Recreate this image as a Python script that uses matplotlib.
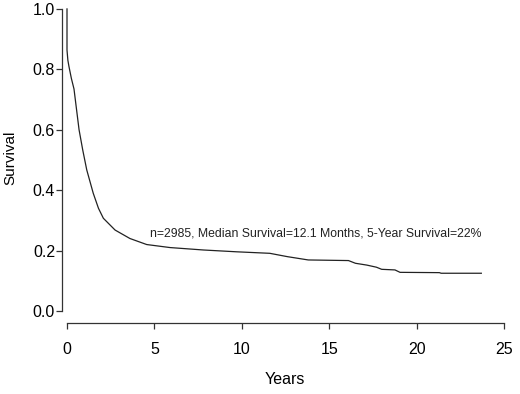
import matplotlib
matplotlib.use("Agg")
import matplotlib.pyplot as plt

plt.rcParams['font.family'] = ['Liberation Sans', 'DejaVu Sans']

years = [0, 0, 0.05, 0.11, 0.25, 0.40, 0.55, 0.69, 0.90, 1.13, 1.5, 1.8, 2.08, 2.75, 3.6, 4.56,
         5.9, 7.8, 9.7, 11.6, 12.6, 13.8, 16.1, 16.5, 17.15, 17.7, 18.0, 18.76, 19.05,
         21.3, 21.4, 23.7]
survival = [1.0, 0.864, 0.83, 0.81, 0.77, 0.735, 0.665, 0.60, 0.533, 0.467, 0.39, 0.34, 0.307, 0.268,
            0.24, 0.22, 0.21, 0.202, 0.196, 0.191, 0.18, 0.169, 0.167, 0.158, 0.152,
            0.145, 0.138, 0.136, 0.128, 0.127, 0.125, 0.125]
xticks = [0, 5, 10, 15, 20, 25]
yticks = [0.0, 0.2, 0.4, 0.6, 0.8, 1.0]
annotation = "n=2985, Median Survival=12.1 Months, 5-Year Survival=22%"

W, H = 520, 394
fig = plt.figure(figsize=(W / 100, H / 100), dpi=100)
ax = fig.add_axes([62 / W, 1 - 323 / H, (510 - 62) / W, (323 - 5) / H])

ax.plot(years, survival, color='#222222', lw=0.9)

ax.set_xlim(-0.286, 25.34)
ax.set_ylim(-0.0397, 1.013)

for s in ['top', 'right']:
    ax.spines[s].set_visible(False)
ax.spines['left'].set_bounds(0, 1)
ax.spines['bottom'].set_bounds(0, 25)
for s in ['left', 'bottom']:
    ax.spines[s].set_linewidth(0.9)
    ax.spines[s].set_color('#333333')

ax.set_xticks(xticks)
ax.set_xticklabels([str(t) for t in xticks])
ax.set_yticks(yticks)
ax.set_yticklabels([f"{t:.1f}" for t in yticks])
ax.tick_params(axis='x', length=4, width=0.9, pad=10, labelsize=11.5, color='#333333')
ax.tick_params(axis='y', length=4, width=0.9, pad=1, labelsize=11.5, color='#333333')

ax.text(4.75, 0.258, annotation, fontsize=8.8, va='center', ha='left', color='#222222')

fig.text(285 / W, 1 - 380 / H, "Years", ha='center', va='center', fontsize=11.5)
fig.text(10 / W, 1 - 158 / H, "Survival", ha='center', va='center', rotation=90, fontsize=11)

fig.savefig("out.png", dpi=100)
